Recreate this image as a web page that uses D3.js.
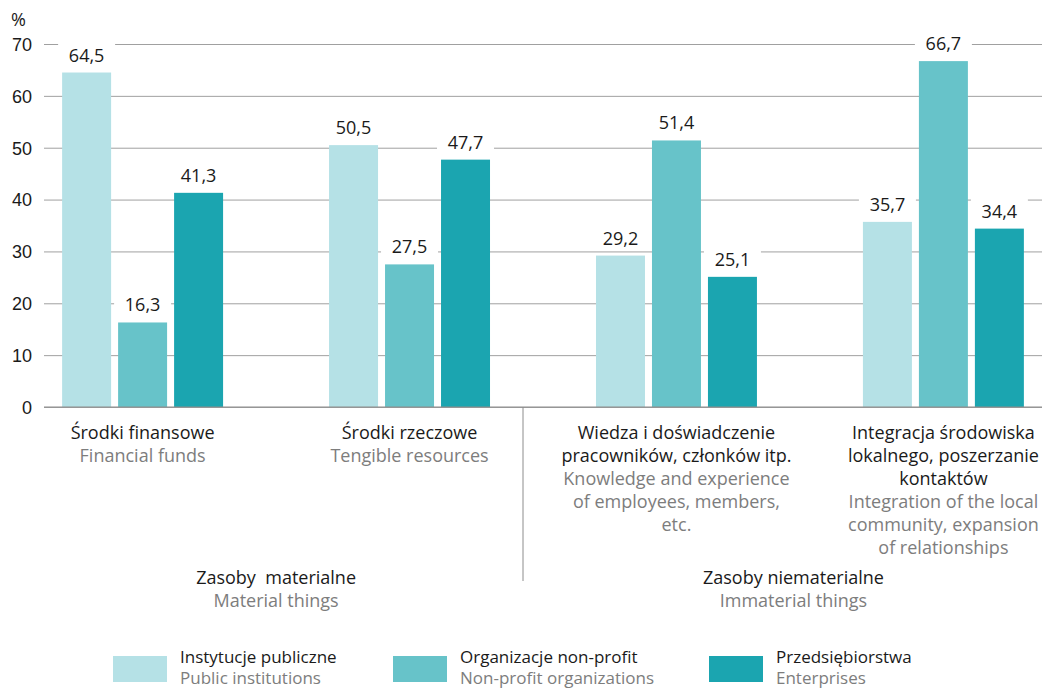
<!DOCTYPE html>
<html>
<head>
<meta charset="utf-8">
<script src="https://cdn.jsdelivr.net/npm/d3@7"></script>
<style>
  html, body { margin: 0; padding: 0; background: #fff; overflow: hidden; }
  svg { display: block; font-family: 'Open Sans', sans-serif; }
</style>
</head>
<body>
<div class="chart"></div>
<script>
'use strict';

// Data
const categories = ['fin', 'rzecz', 'wiedza', 'integr'];
const catLabelsPl = [
  ['Środki finansowe'],
  ['Środki rzeczowe'],
  ['Wiedza i doświadczenie', 'pracowników, członków itp.'],
  ['Integracja środowiska', 'lokalnego, poszerzanie', 'kontaktów']
];
const catLabelsEn = [
  ['Financial funds'],
  ['Tengible resources'],
  ['Knowledge and experience', 'of employees, members,', 'etc.'],
  ['Integration of the local', 'community, expansion', 'of relationships']
];
const seriesNames = ['public', 'nonprofit', 'enterprise'];
const seriesPl = ['Instytucje publiczne', 'Organizacje non-profit', 'Przedsiębiorstwa'];
const seriesEn = ['Public institutions', 'Non-profit organizations', 'Enterprises'];
const publicValues = [64.5, 50.5, 29.2, 35.7];
const nonprofitValues = [16.3, 27.5, 51.4, 66.7];
const enterpriseValues = [41.3, 47.7, 25.1, 34.4];
const yTicks = [0, 10, 20, 30, 40, 50, 60, 70];
const groupPl = ['Zasoby  materialne', 'Zasoby niematerialne'];
const groupEn = ['Material things', 'Immaterial things'];

const seriesValues = [publicValues, nonprofitValues, enterpriseValues];
const colors = ['#b5e1e6', '#67c3c9', '#1ba5b0'];

// Setup
const w = 1042;
const h = 689;
const grey = '#7d7d7d';
const black = '#1a1a1a';
const fs = '18px';

const svg = d3.select('.chart')
  .append('svg')
  .attr('width', w)
  .attr('height', h);

const x0 = d3.scaleBand()
  .domain(categories)
  .range([9, 1077])
  .paddingInner(0.397)
  .paddingOuter(0.199);

const x1 = d3.scaleBand()
  .domain(seriesNames)
  .range([0, x0.bandwidth()])
  .paddingInner(0.125);

const y = d3.scaleLinear()
  .domain([0, 70])
  .range([407, 44]);

// Grid + y labels
const yAxis = d3.axisLeft(y)
  .tickValues(yTicks)
  .tickSize(-(w - 44))
  .tickPadding(12)
  .tickFormat(d3.format('d'));

const yg = svg.append('g')
  .attr('transform', 'translate(44,0)')
  .call(yAxis);
yg.select('.domain').remove();
yg.selectAll('.tick line').attr('stroke', '#a0a0a0').attr('stroke-width', 1);
yg.selectAll('.tick text')
  .attr('fill', black)
  .style('font-size', fs)
  .attr('dy', '0.35em');

svg.append('text')
  .attr('x', 11)
  .attr('y', 26)
  .attr('fill', black)
  .style('font-size', fs)
  .text('%');

// Bars
const groups = svg.selectAll('g.cat')
  .data(categories)
  .enter()
  .append('g')
  .attr('class', 'cat')
  .attr('transform', d => `translate(${x0(d)},0)`);

groups.each(function(cat, ci) {
  const g = d3.select(this);
  const rows = seriesNames.map((s, si) => ({ s, si, v: seriesValues[si][ci] }));

  g.selectAll('rect')
    .data(rows)
    .enter()
    .append('rect')
    .attr('x', d => x1(d.s))
    .attr('width', x1.bandwidth())
    .attr('y', d => y(d.v))
    .attr('height', d => y(0) - y(d.v))
    .attr('fill', d => colors[d.si]);

  // white boxes behind value labels (hide gridlines)
  g.selectAll('rect.bg')
    .data(rows)
    .enter()
    .append('rect')
    .attr('class', 'bg')
    .attr('x', d => x1(d.s) - 4)
    .attr('width', x1.bandwidth() + 8)
    .attr('y', d => y(d.v) - 32)
    .attr('height', 26)
    .attr('fill', '#fff');

  g.selectAll('text.val')
    .data(rows)
    .enter()
    .append('text')
    .attr('class', 'val')
    .attr('x', d => x1(d.s) + x1.bandwidth() / 2)
    .attr('y', d => y(d.v) - 11)
    .attr('text-anchor', 'middle')
    .attr('fill', black)
    .style('font-size', fs)
    .text(d => d3.format('.1f')(d.v).replace('.', ','));
});

// baseline
svg.append('line')
  .attr('x1', 44).attr('x2', w)
  .attr('y1', y(0)).attr('y2', y(0))
  .attr('stroke', '#8c8c8c');

// Category labels
const lineH = 23;
categories.forEach((cat, ci) => {
  const cx = x0(cat) + x0.bandwidth() / 2;
  const lines = catLabelsPl[ci].map(t => ({ t, c: black }))
    .concat(catLabelsEn[ci].map(t => ({ t, c: grey })));
  svg.append('g').selectAll('text')
    .data(lines)
    .enter()
    .append('text')
    .attr('x', cx)
    .attr('y', (d, i) => 439 + i * lineH)
    .attr('text-anchor', 'middle')
    .attr('fill', d => d.c)
    .style('font-size', fs)
    .text(d => d.t);
});

// divider between material and immaterial groups
const divX = (x0(categories[1]) + x0.bandwidth() + x0(categories[2])) / 2 - 20;
svg.append('line')
  .attr('x1', divX).attr('x2', divX)
  .attr('y1', y(0)).attr('y2', 581)
  .attr('stroke', '#8c8c8c');

const groupCenters = [
  (x0(categories[0]) + x0(categories[1]) + x0.bandwidth()) / 2,
  (divX + x0(categories[3]) + x0.bandwidth() + 40) / 2
];
groupCenters.forEach((gx, gi) => {
  svg.append('text')
    .attr('x', gx).attr('y', 584)
    .attr('text-anchor', 'middle')
    .attr('fill', black)
    .style('font-size', fs)
    .style('white-space', 'pre')
    .text(groupPl[gi]);
  svg.append('text')
    .attr('x', gx).attr('y', 607)
    .attr('text-anchor', 'middle')
    .attr('fill', grey)
    .style('font-size', fs)
    .text(groupEn[gi]);
});

// Legend (slightly smaller so both lines fit in the window)
const legendX = [113, 393, 709];
const legend = svg.selectAll('g.legend')
  .data(seriesNames)
  .enter()
  .append('g')
  .attr('class', 'legend')
  .attr('transform', (d, i) => `translate(${legendX[i]},656)`);

legend.append('rect')
  .attr('width', 54)
  .attr('height', 26)
  .attr('fill', (d, i) => colors[i]);

legend.append('text')
  .attr('x', 67).attr('y', 7)
  .attr('fill', black)
  .style('font-size', '17px')
  .text((d, i) => seriesPl[i]);

legend.append('text')
  .attr('x', 67).attr('y', 28)
  .attr('fill', grey)
  .style('font-size', '17px')
  .text((d, i) => seriesEn[i]);
</script>
</body>
</html>
